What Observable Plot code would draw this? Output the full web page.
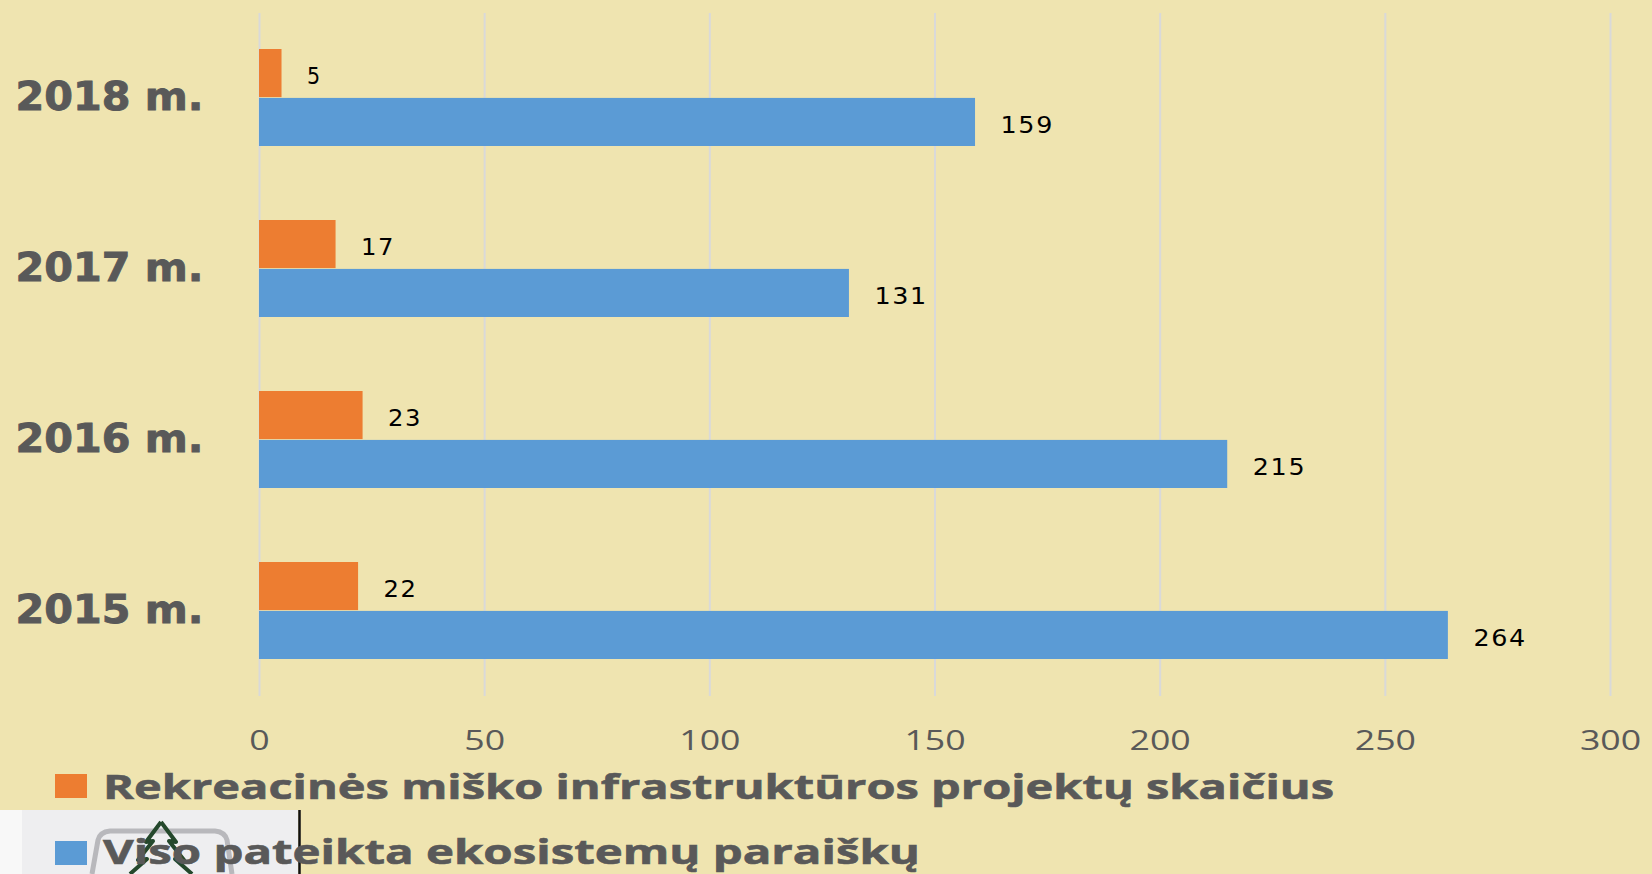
<!DOCTYPE html>
<html>
<head>
<meta charset="utf-8">
<script src="https://cdn.jsdelivr.net/npm/d3@7"></script>
<script src="https://cdn.jsdelivr.net/npm/@observablehq/plot@0.6"></script>
<style>
  html, body { margin: 0; padding: 0; background: #EFE4B0; }
  #wrap { position: relative; width: 1652px; height: 874px; overflow: hidden; background: #EFE4B0; }
  #chart { position: absolute; left: 0; top: 0; }
  #legend { position: absolute; left: 0; top: 760px; }
</style>
</head>
<body>
<div id="wrap">
  <div id="chart"></div>
  <svg id="legend" width="1652" height="114"></svg>
</div>
<script>
// ---- data ----
const years = ["2018 m.", "2017 m.", "2016 m.", "2015 m."];
const seriesNames = [
  "Rekreacinės miško infrastruktūros projektų skaičius",
  "Viso pateikta ekosistemų paraiškų"
];
const recreationProjects = [5, 17, 23, 22];
const totalApplications = [159, 131, 215, 264];
const xTicks = [0, 50, 100, 150, 200, 250, 300];
const seriesColors = ["#ED7D31", "#5B9BD5"];

const recData = years.map((y, i) => ({year: y, value: recreationProjects[i]}));
const totData = years.map((y, i) => ({year: y, value: totalApplications[i]}));

// ---- layout ----
const W = 1652, H = 760, mT = 13, mB = 64, mL = 259, mR = 42;
const pI = 0.43, pO = 0.205;
const step = (H - mT - mB) / (years.length - pI + 2 * pO);
const bw = step * (1 - pI);
const half = bw / 2;

const chart = Plot.plot({
  width: W,
  height: H,
  marginTop: mT,
  marginBottom: mB,
  marginLeft: mL,
  marginRight: mR,
  style: {background: "transparent", color: "#595959"},
  x: {domain: [0, 300], label: null},
  y: {domain: years, paddingInner: pI, paddingOuter: pO, label: null},
  marks: [
    Plot.gridX(xTicks, {stroke: "#D9D9D9", strokeWidth: 2, strokeOpacity: 1}),
    Plot.barX(recData, {y: "year", x: "value", fill: seriesColors[0], insetBottom: half}),
    Plot.barX(totData, {y: "year", x: "value", fill: seriesColors[1], insetTop: half}),
    Plot.text(recData, {y: "year", x: "value", text: d => String(d.value), textAnchor: "start",
      dx: 25, dy: -half / 2 + 3, fontSize: 23, fontFamily: "DejaVu Sans", fill: "#000"}),
    Plot.text(totData, {y: "year", x: "value", text: d => String(d.value), textAnchor: "start",
      dx: 25, dy: half / 2 + 3, fontSize: 23, fontFamily: "DejaVu Sans", fill: "#000"}),
    Plot.axisX({ticks: xTicks, tickSize: 0, tickPadding: 34, fontSize: 27.6,
      fontFamily: "Open Sans", fill: "#595959", label: null}),
    Plot.axisY({tickSize: 0, tickPadding: 56, fontSize: 39, fontWeight: "bold",
      fontFamily: "DejaVu Sans", fill: "#595959", label: null})
  ]
});
document.getElementById("chart").appendChild(chart);

// value labels: wide spaced digits like the original
chart.querySelectorAll('g[aria-label="text"] text').forEach(t => {
  const n = t.textContent.length;
  t.style.letterSpacing = "1.5px";
  t.setAttribute("textLength", 14.5 * n + 5 * (n - 1));
  t.setAttribute("lengthAdjust", "spacingAndGlyphs");
});
// y labels
chart.querySelectorAll('g[aria-label="y-axis tick label"] text').forEach(t => {
  t.style.fontWeight = "bold";
  t.style.fontFamily = "DejaVu Sans";
  t.style.fontSize = "39px";
  t.style.stroke = "#595959";
  t.style.strokeWidth = "0.9px";
  t.setAttribute("textLength", 188);
  t.setAttribute("lengthAdjust", "spacingAndGlyphs");
});
// x tick labels: widened glyphs
chart.querySelectorAll('g[aria-label="x-axis tick label"] text').forEach(t => {
  const n = t.textContent.length;
  t.style.fontFamily = "Open Sans";
  t.style.fontSize = "27.6px";
  t.setAttribute("textLength", 20.4 * n);
  t.setAttribute("lengthAdjust", "spacingAndGlyphs");
});

// ---- legend (with the cropped logo behind it) ----
const lg = d3.select("#legend");
const logo = lg.append("g");
logo.append("rect").attr("x", 0).attr("y", 50).attr("width", 298).attr("height", 64).attr("fill", "#EEEEF0");
logo.append("rect").attr("x", 0).attr("y", 50).attr("width", 22).attr("height", 64).attr("fill", "#F8F8F8");
logo.append("path")
  .attr("d", "M92,114 L98,80 Q100,72 110,71 L215,71 Q225,72 227,80 L232,114")
  .attr("fill", "none").attr("stroke", "#B8B8BC").attr("stroke-width", 5);
logo.append("path")
  .attr("d", "M161,62 L146,82 L153,81 L138,100 L147,99 L130,114 M161,62 L176,82 L169,81 L184,100 L175,99 L192,114")
  .attr("fill", "none").attr("stroke", "#24482C").attr("stroke-width", 4).attr("stroke-linejoin", "round");
logo.append("line").attr("x1", 299.5).attr("x2", 299.5).attr("y1", 50).attr("y2", 114)
  .attr("stroke", "#111").attr("stroke-width", 2.5);

const legendRows = [
  {name: seriesNames[0], color: seriesColors[0], sq: 14, base: 39, len: 1231},
  {name: seriesNames[1], color: seriesColors[1], sq: 81, base: 104, len: 817}
];
legendRows.forEach(r => {
  lg.append("rect").attr("x", 55).attr("y", r.sq).attr("width", 32).attr("height", 24).attr("fill", r.color);
  lg.append("text").attr("x", 103).attr("y", r.base)
    .attr("font-family", "Open Sans").attr("font-weight", "bold").attr("font-size", 34)
    .attr("fill", "#595959").attr("stroke", "#595959").attr("stroke-width", 0.6)
    .attr("textLength", r.len).attr("lengthAdjust", "spacingAndGlyphs")
    .text(r.name);
});
</script>
</body>
</html>
